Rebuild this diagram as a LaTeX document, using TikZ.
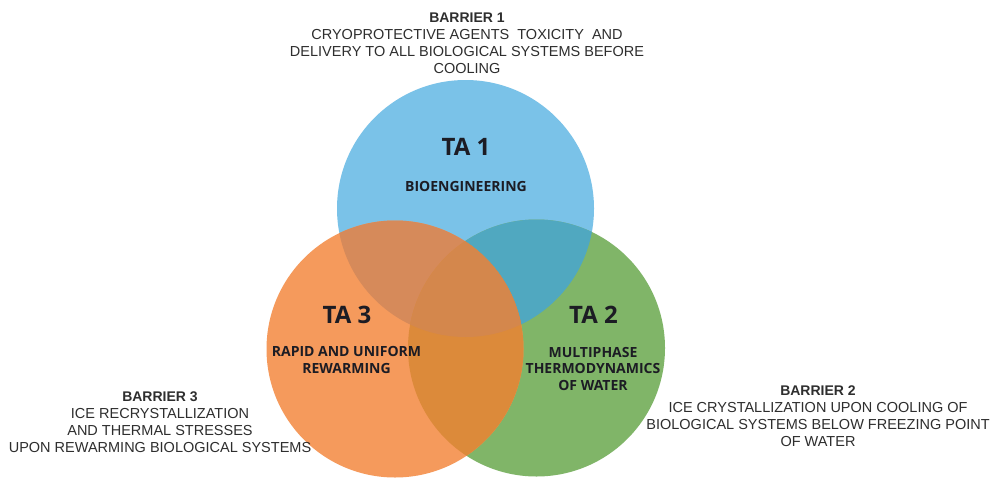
\documentclass[tikz,border=0pt]{standalone}
\usepackage{fontspec}
\setmainfont{Open Sans}
\newfontfamily\barfont{Liberation Sans}
\definecolor{cblue}{HTML}{7AC2E8}
\definecolor{corange}{HTML}{F59A5C}
\definecolor{cgreen}{HTML}{80B568}
\definecolor{cbo}{HTML}{D68A5A}
\definecolor{cbg}{HTML}{50A8C0}
\definecolor{cog}{HTML}{DC8A3A}
\definecolor{cbog}{HTML}{D4874C}
\definecolor{txtgray}{HTML}{2E2E2E}
\definecolor{txtdark}{HTML}{1C1C24}
\newcommand{\bartitle}[1]{{\fontsize{14}{17}\selectfont\bfseries #1}}
\tikzset{
  barrier/.style={align=center, inner sep=0pt, text=txtgray, font=\barfont\fontsize{14.5}{17}\selectfont},
  talabel/.style={inner sep=0pt, text=txtdark, font=\fontsize{24}{28}\selectfont\bfseries},
  sublabel/.style={align=center, inner sep=0pt, text=txtdark, font=\fontsize{14}{16.5}\selectfont\bfseries},
}
\begin{document}
\begin{tikzpicture}[x=1pt,y=-1pt]
\useasboundingbox (0,0) rectangle (1000,487);
\fill[white] (0,0) rectangle (1000,487);
\coordinate (cb) at (465.5,208.5);
\coordinate (co) at (395,349);
\coordinate (cg) at (536.5,348);
\def\R{128.5pt}
% single circles
\fill[cblue] (cb) circle[radius=\R];
\fill[cgreen] (cg) circle[radius=\R];
\fill[corange] (co) circle[radius=\R];
% pairwise overlaps
\begin{scope}
  \clip (cb) circle[radius=\R];
  \fill[cbg] (cg) circle[radius=\R];
  \fill[cbo] (co) circle[radius=\R];
\end{scope}
\begin{scope}
  \clip (co) circle[radius=\R];
  \fill[cog] (cg) circle[radius=\R];
\end{scope}
% triple overlap
\begin{scope}
  \clip (cb) circle[radius=\R];
  \clip (co) circle[radius=\R];
  \fill[cbog] (cg) circle[radius=\R];
\end{scope}
% labels
\node[talabel] (ta1) at (466,147) {TA 1};
\node[sublabel] (bio) at (466,186) {BIOENGINEERING};
\node[talabel] (ta3) at (347,314.5) {TA 3};
\node[sublabel] (rap) at (346.5,360) {RAPID AND UNIFORM\\REWARMING};
\node[talabel] (ta2) at (593.5,314.5) {TA 2};
\node[sublabel] (mul) at (593,368.5) {MULTIPHASE\\THERMODYNAMICS\\OF WATER};
% barriers
\node[barrier] (b1) at (467,43) {\bartitle{BARRIER 1}\\CRYOPROTECTIVE AGENTS\ \ TOXICITY\ \ AND\\DELIVERY TO ALL BIOLOGICAL SYSTEMS BEFORE\\COOLING};
\node[barrier] (b3) at (160,422) {\bartitle{BARRIER 3}\\ICE RECRYSTALLIZATION\\AND THERMAL STRESSES\\UPON REWARMING BIOLOGICAL SYSTEMS};
\node[barrier] (b2) at (818,416.5) {\bartitle{BARRIER 2}\\ICE CRYSTALLIZATION UPON COOLING OF\\BIOLOGICAL SYSTEMS BELOW FREEZING POINT\\OF WATER};
\end{tikzpicture}
\end{document}
